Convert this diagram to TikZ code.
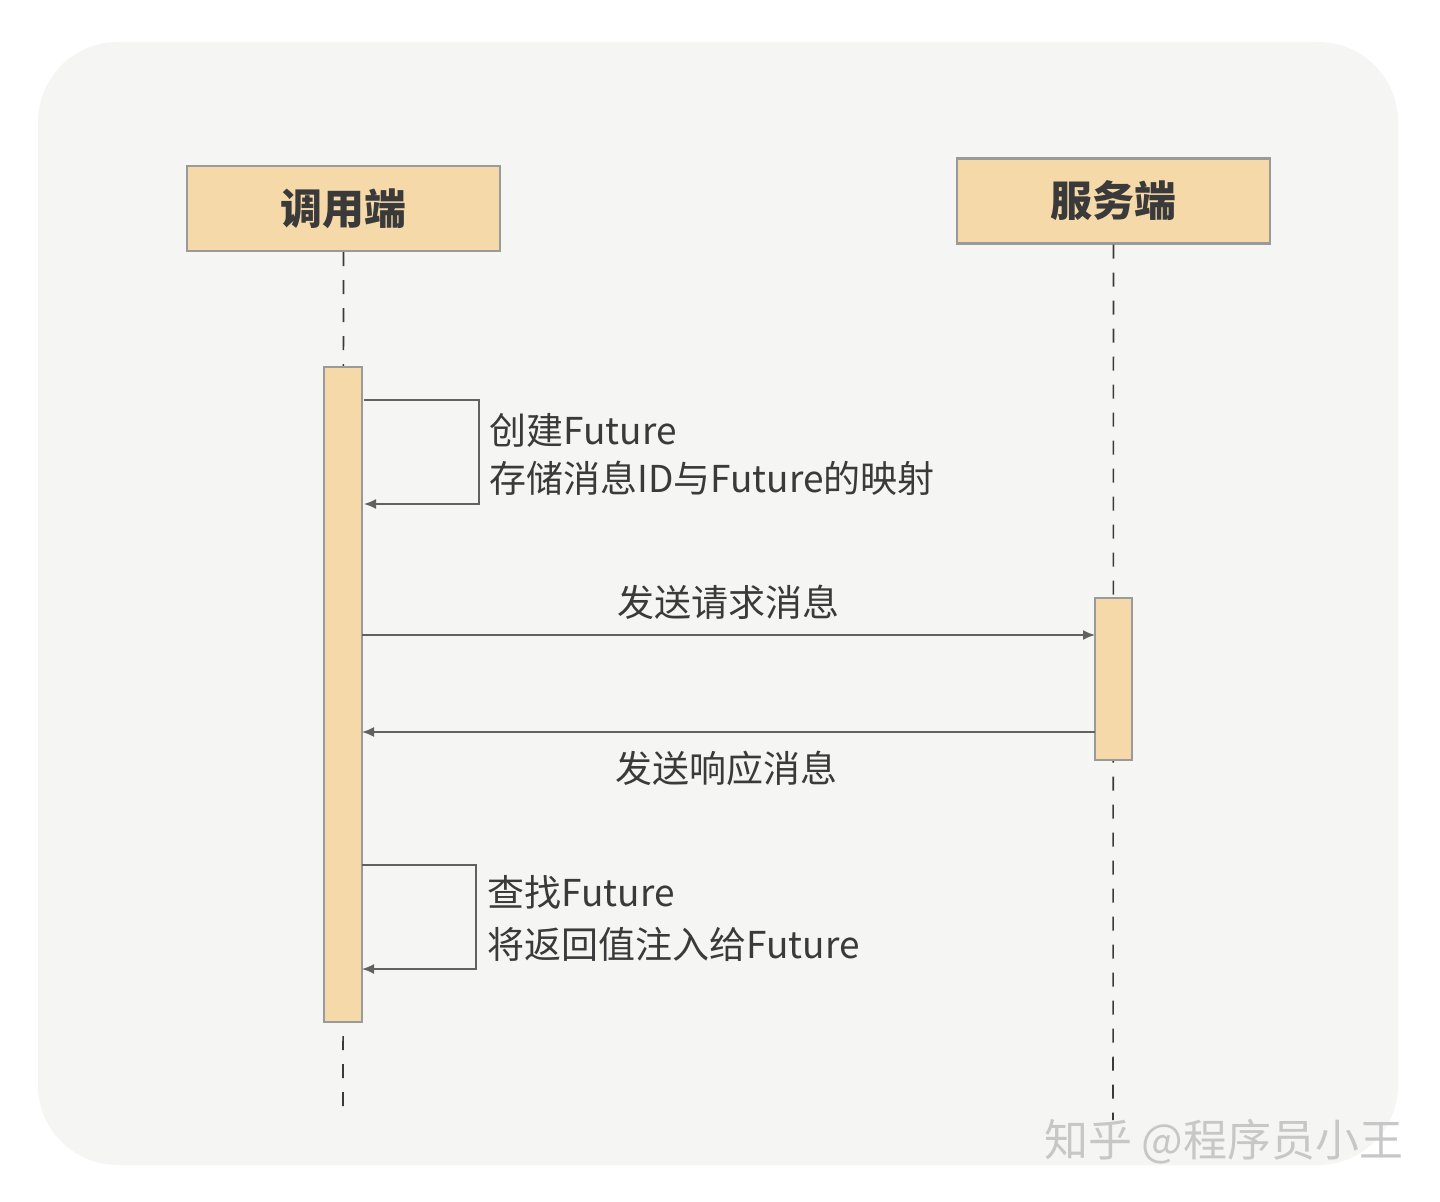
\documentclass[tikz,border=0pt]{standalone}
\usepackage{fontspec}
\setmainfont{Noto Sans CJK SC}
\usetikzlibrary{arrows.meta}
\definecolor{bg}{HTML}{F5F5F4}
\definecolor{box}{HTML}{F5D9A8}
\definecolor{bd}{HTML}{9A9A9A}
\definecolor{tx}{HTML}{3A3A3A}
\tikzset{
 head/.style={draw=bd,line width=1.2pt,fill=box,minimum width=156.5pt,minimum height=42.5pt,font=\fontsize{21}{24}\selectfont\bfseries,text=tx},
 act/.style={draw=bd,line width=1pt,fill=box},
 life/.style={draw=tx,line width=0.8pt,dash pattern=on 7pt off 7pt},
 msg/.style={draw=tx!80,line width=0.8pt,-{Latex[length=6pt,width=5pt]}},
 lbl/.style={font=\fontsize{18.5}{21}\selectfont,text=tx,anchor=west,inner sep=0pt},
}
\begin{document}
\begin{tikzpicture}[x=0.5pt,y=-0.5pt]
\useasboundingbox (0,0) rectangle (1440,1202);
\fill[white] (0,0) rectangle (1440,1202);
\fill[bg,rounded corners=40pt] (38,42) rectangle (1398,1165);
\node[head] (c) at (343.5,208.5) {调用端};
\node[head] (s) at (1113.5,201) {服务端};
\coordinate (ce) at (343,1120);
\coordinate (se) at (1113,1120);
\draw[life] (c.south) -- (ce);
\draw[life] (s.south) -- (se);
\draw[act] (324,367) rectangle (362,1022);
\draw[act] (1095,598) rectangle (1132,760);
\coordinate (a1) at (364,400); \coordinate (a2) at (479,400);
\coordinate (a3) at (479,504); \coordinate (a4) at (364,504);
\draw[msg] (a1) -- (a2) -- (a3) -- (a4);
\node[lbl] (t1) at (489,430) {创建Future};
\node[lbl] (t2) at (489,478) {存储消息ID与Future的映射};
\coordinate (r1) at (362,635); \coordinate (r2) at (1095,635);
\draw[msg] (r1) -- (r2);
\node[lbl,anchor=center] (t3) at (728,602) {发送请求消息};
\coordinate (p1) at (1095,732); \coordinate (p2) at (362,732);
\draw[msg] (p1) -- (p2);
\node[lbl,anchor=center] (t4) at (726,768) {发送响应消息};
\coordinate (b1) at (362,865); \coordinate (b2) at (476,865);
\coordinate (b3) at (476,969); \coordinate (b4) at (362,969);
\draw[msg] (b1) -- (b2) -- (b3) -- (b4);
\node[lbl] (t5) at (487,892) {查找Future};
\node[lbl] (t6) at (487,944) {将返回值注入给Future};
\node[font=\fontsize{22}{26}\selectfont,text=black!22,anchor=east,inner sep=0pt] (w) at (1404,1142) {知乎 @程序员小王};
\end{tikzpicture}
\end{document}
